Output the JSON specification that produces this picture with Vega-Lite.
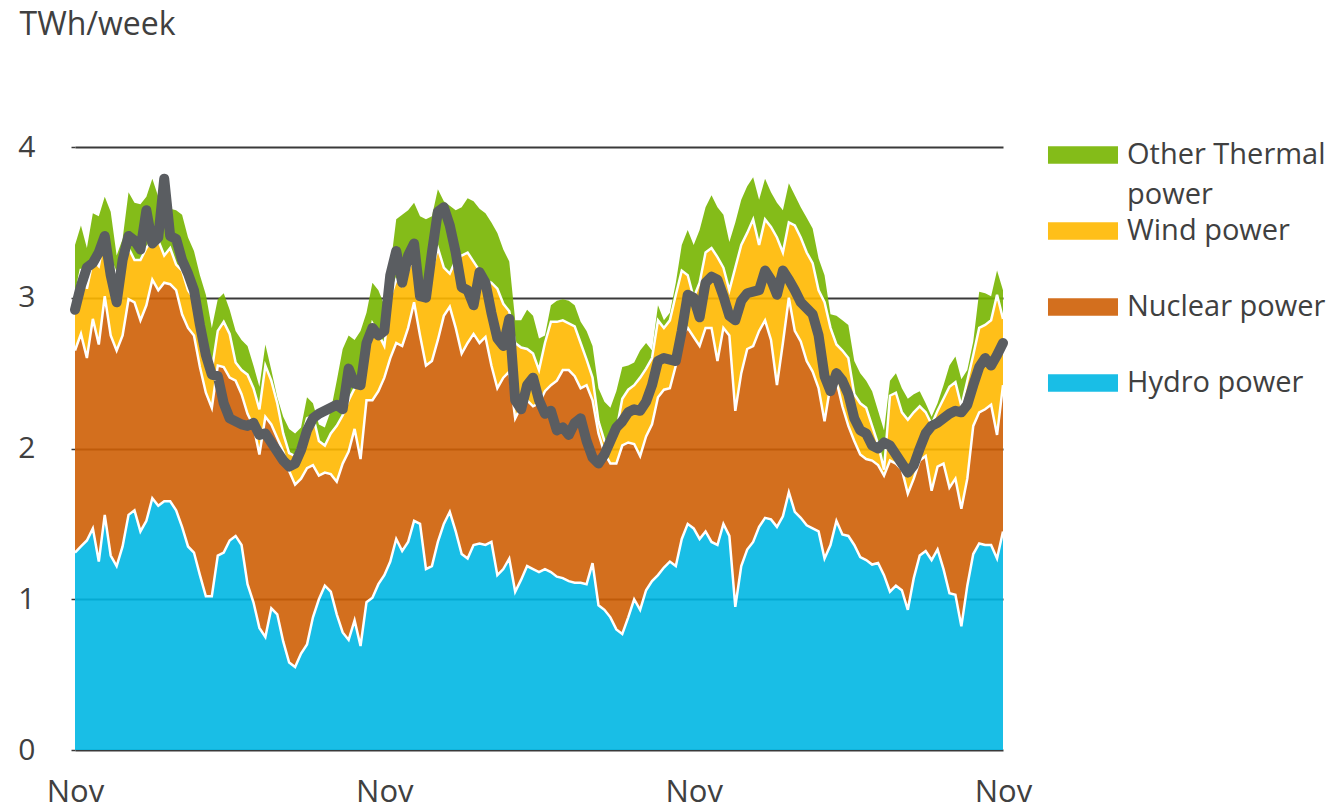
{
  "$schema": "https://vega.github.io/schema/vega-lite/v6.json",
  "width": 928,
  "height": 603,
  "autosize": {"type": "none"},
  "padding": {"left": 75, "top": 147, "right": 331, "bottom": 59},
  "background": "white",
  "config": {
    "view": {"stroke": null},
    "font": "Open Sans",
    "axisX": {
      "grid": false, "domain": false, "ticks": false,
      "labelFont": "Open Sans", "labelFontSize": 31, "labelColor": "#404040", "labelPadding": 27,
      "labelFlush": false, "labelOverlap": false
    },
    "axisY": {
      "grid": true, "gridColor": "#3A3A3A", "gridWidth": 2,
      "domain": false, "ticks": true, "tickSize": 4, "tickColor": "#3A3A3A", "tickWidth": 1.5,
      "labelFont": "Open Sans", "labelFontSize": 30, "labelColor": "#404040", "labelPadding": 36,
      "titleAngle": 0, "titleAlign": "left", "titleBaseline": "middle",
      "titleX": -56, "titleY": -123, "titleFont": "Open Sans", "titleFontSize": 32,
      "titleFontWeight": "normal", "titleColor": "#404040"
    }
  },
  "datasets": {
    "weekly": [
      {"w":0,"Hydro":1.31,"Nuclear":1.34,"Wind":0.34,"Other":0.36,"c":2.92},
      {"w":1,"Hydro":1.35,"Nuclear":1.41,"Wind":0.43,"Other":0.29,"c":3.08},
      {"w":2,"Hydro":1.39,"Nuclear":1.21,"Wind":0.46,"Other":0.27,"c":3.20},
      {"w":3,"Hydro":1.47,"Nuclear":1.39,"Wind":0.39,"Other":0.31,"c":3.23},
      {"w":4,"Hydro":1.25,"Nuclear":1.44,"Wind":0.52,"Other":0.33,"c":3.30},
      {"w":5,"Hydro":1.56,"Nuclear":1.45,"Wind":0.40,"Other":0.26,"c":3.41},
      {"w":6,"Hydro":1.29,"Nuclear":1.46,"Wind":0.50,"Other":0.32,"c":3.15},
      {"w":7,"Hydro":1.22,"Nuclear":1.43,"Wind":0.50,"Other":0.13,"c":2.97},
      {"w":8,"Hydro":1.35,"Nuclear":1.40,"Wind":0.53,"Other":0.11,"c":3.25},
      {"w":9,"Hydro":1.56,"Nuclear":1.43,"Wind":0.34,"Other":0.37,"c":3.41},
      {"w":10,"Hydro":1.59,"Nuclear":1.38,"Wind":0.28,"Other":0.38,"c":3.38},
      {"w":11,"Hydro":1.45,"Nuclear":1.40,"Wind":0.40,"Other":0.37,"c":3.32},
      {"w":12,"Hydro":1.52,"Nuclear":1.43,"Wind":0.38,"Other":0.34,"c":3.58},
      {"w":13,"Hydro":1.67,"Nuclear":1.45,"Wind":0.27,"Other":0.40,"c":3.36},
      {"w":14,"Hydro":1.62,"Nuclear":1.43,"Wind":0.33,"Other":0.29,"c":3.40},
      {"w":15,"Hydro":1.65,"Nuclear":1.45,"Wind":0.18,"Other":0.42,"c":3.79},
      {"w":16,"Hydro":1.65,"Nuclear":1.44,"Wind":0.24,"Other":0.26,"c":3.41},
      {"w":17,"Hydro":1.59,"Nuclear":1.46,"Wind":0.17,"Other":0.36,"c":3.39},
      {"w":18,"Hydro":1.48,"Nuclear":1.41,"Wind":0.29,"Other":0.37,"c":3.25},
      {"w":19,"Hydro":1.35,"Nuclear":1.45,"Wind":0.25,"Other":0.35,"c":3.16},
      {"w":20,"Hydro":1.31,"Nuclear":1.44,"Wind":0.24,"Other":0.32,"c":3.05},
      {"w":21,"Hydro":1.16,"Nuclear":1.38,"Wind":0.30,"Other":0.31,"c":2.82},
      {"w":22,"Hydro":1.02,"Nuclear":1.35,"Wind":0.21,"Other":0.44,"c":2.62},
      {"w":23,"Hydro":1.02,"Nuclear":1.25,"Wind":0.25,"Other":0.28,"c":2.49},
      {"w":24,"Hydro":1.29,"Nuclear":1.26,"Wind":0.23,"Other":0.21,"c":2.48},
      {"w":25,"Hydro":1.31,"Nuclear":1.23,"Wind":0.30,"Other":0.19,"c":2.30},
      {"w":26,"Hydro":1.39,"Nuclear":1.08,"Wind":0.29,"Other":0.16,"c":2.20},
      {"w":27,"Hydro":1.42,"Nuclear":1.03,"Wind":0.12,"Other":0.21,"c":2.18},
      {"w":28,"Hydro":1.36,"Nuclear":1.00,"Wind":0.16,"Other":0.20,"c":2.16},
      {"w":29,"Hydro":1.10,"Nuclear":1.13,"Wind":0.26,"Other":0.19,"c":2.15},
      {"w":30,"Hydro":0.98,"Nuclear":1.17,"Wind":0.25,"Other":0.15,"c":2.17},
      {"w":31,"Hydro":0.81,"Nuclear":1.15,"Wind":0.30,"Other":0.15,"c":2.09},
      {"w":32,"Hydro":0.75,"Nuclear":1.46,"Wind":0.34,"Other":0.14,"c":2.10},
      {"w":33,"Hydro":0.94,"Nuclear":1.22,"Wind":0.29,"Other":0.07,"c":2.04},
      {"w":34,"Hydro":0.90,"Nuclear":1.17,"Wind":0.23,"Other":0.04,"c":1.98},
      {"w":35,"Hydro":0.72,"Nuclear":1.26,"Wind":0.12,"Other":0.11,"c":1.92},
      {"w":36,"Hydro":0.58,"Nuclear":1.27,"Wind":0.12,"Other":0.16,"c":1.88},
      {"w":37,"Hydro":0.55,"Nuclear":1.21,"Wind":0.19,"Other":0.15,"c":1.90},
      {"w":38,"Hydro":0.64,"Nuclear":1.16,"Wind":0.25,"Other":0.09,"c":1.99},
      {"w":39,"Hydro":0.70,"Nuclear":1.17,"Wind":0.33,"Other":0.14,"c":2.12},
      {"w":40,"Hydro":0.88,"Nuclear":1.01,"Wind":0.33,"Other":0.08,"c":2.20},
      {"w":41,"Hydro":1.00,"Nuclear":0.82,"Wind":0.23,"Other":0.11,"c":2.23},
      {"w":42,"Hydro":1.09,"Nuclear":0.75,"Wind":0.18,"Other":0.12,"c":2.25},
      {"w":43,"Hydro":1.05,"Nuclear":0.78,"Wind":0.27,"Other":0.15,"c":2.27},
      {"w":44,"Hydro":0.90,"Nuclear":0.88,"Wind":0.37,"Other":0.30,"c":2.29},
      {"w":45,"Hydro":0.78,"Nuclear":1.12,"Wind":0.32,"Other":0.44,"c":2.26},
      {"w":46,"Hydro":0.73,"Nuclear":1.25,"Wind":0.34,"Other":0.43,"c":2.53},
      {"w":47,"Hydro":0.86,"Nuclear":1.27,"Wind":0.27,"Other":0.32,"c":2.43},
      {"w":48,"Hydro":0.69,"Nuclear":1.24,"Wind":0.53,"Other":0.32,"c":2.42},
      {"w":49,"Hydro":0.98,"Nuclear":1.34,"Wind":0.28,"Other":0.30,"c":2.70},
      {"w":50,"Hydro":1.01,"Nuclear":1.31,"Wind":0.51,"Other":0.27,"c":2.80},
      {"w":51,"Hydro":1.10,"Nuclear":1.28,"Wind":0.38,"Other":0.29,"c":2.75},
      {"w":52,"Hydro":1.16,"Nuclear":1.31,"Wind":0.21,"Other":0.27,"c":2.78},
      {"w":53,"Hydro":1.25,"Nuclear":1.35,"Wind":0.40,"Other":0.20,"c":3.15},
      {"w":54,"Hydro":1.40,"Nuclear":1.30,"Wind":0.42,"Other":0.40,"c":3.31},
      {"w":55,"Hydro":1.32,"Nuclear":1.36,"Wind":0.40,"Other":0.47,"c":3.10},
      {"w":56,"Hydro":1.38,"Nuclear":1.42,"Wind":0.38,"Other":0.40,"c":3.28},
      {"w":57,"Hydro":1.52,"Nuclear":1.45,"Wind":0.31,"Other":0.35,"c":3.36},
      {"w":58,"Hydro":1.50,"Nuclear":1.25,"Wind":0.30,"Other":0.49,"c":3.01},
      {"w":59,"Hydro":1.20,"Nuclear":1.35,"Wind":0.45,"Other":0.52,"c":3.00},
      {"w":60,"Hydro":1.22,"Nuclear":1.36,"Wind":0.60,"Other":0.36,"c":3.30},
      {"w":61,"Hydro":1.38,"Nuclear":1.34,"Wind":0.61,"Other":0.39,"c":3.57},
      {"w":62,"Hydro":1.50,"Nuclear":1.38,"Wind":0.32,"Other":0.44,"c":3.60},
      {"w":63,"Hydro":1.58,"Nuclear":1.36,"Wind":0.22,"Other":0.45,"c":3.48},
      {"w":64,"Hydro":1.45,"Nuclear":1.35,"Wind":0.45,"Other":0.33,"c":3.30},
      {"w":65,"Hydro":1.30,"Nuclear":1.33,"Wind":0.65,"Other":0.32,"c":3.07},
      {"w":66,"Hydro":1.27,"Nuclear":1.43,"Wind":0.60,"Other":0.36,"c":3.05},
      {"w":67,"Hydro":1.36,"Nuclear":1.40,"Wind":0.48,"Other":0.40,"c":2.95},
      {"w":68,"Hydro":1.37,"Nuclear":1.33,"Wind":0.48,"Other":0.41,"c":3.17},
      {"w":69,"Hydro":1.36,"Nuclear":1.38,"Wind":0.38,"Other":0.44,"c":3.10},
      {"w":70,"Hydro":1.38,"Nuclear":1.17,"Wind":0.55,"Other":0.40,"c":2.90},
      {"w":71,"Hydro":1.16,"Nuclear":1.24,"Wind":0.66,"Other":0.37,"c":2.73},
      {"w":72,"Hydro":1.20,"Nuclear":1.27,"Wind":0.49,"Other":0.36,"c":2.68},
      {"w":73,"Hydro":1.27,"Nuclear":1.24,"Wind":0.40,"Other":0.33,"c":2.86},
      {"w":74,"Hydro":1.05,"Nuclear":1.15,"Wind":0.50,"Other":0.15,"c":2.32},
      {"w":75,"Hydro":1.13,"Nuclear":1.15,"Wind":0.39,"Other":0.18,"c":2.26},
      {"w":76,"Hydro":1.22,"Nuclear":1.10,"Wind":0.34,"Other":0.26,"c":2.42},
      {"w":77,"Hydro":1.20,"Nuclear":1.08,"Wind":0.35,"Other":0.25,"c":2.47},
      {"w":78,"Hydro":1.18,"Nuclear":1.12,"Wind":0.22,"Other":0.21,"c":2.32},
      {"w":79,"Hydro":1.20,"Nuclear":1.18,"Wind":0.32,"Other":0.05,"c":2.23},
      {"w":80,"Hydro":1.18,"Nuclear":1.24,"Wind":0.42,"Other":0.11,"c":2.25},
      {"w":81,"Hydro":1.15,"Nuclear":1.30,"Wind":0.39,"Other":0.14,"c":2.12},
      {"w":82,"Hydro":1.14,"Nuclear":1.38,"Wind":0.33,"Other":0.14,"c":2.14},
      {"w":83,"Hydro":1.12,"Nuclear":1.40,"Wind":0.31,"Other":0.15,"c":2.09},
      {"w":84,"Hydro":1.11,"Nuclear":1.37,"Wind":0.33,"Other":0.14,"c":2.17},
      {"w":85,"Hydro":1.11,"Nuclear":1.29,"Wind":0.30,"Other":0.14,"c":2.20},
      {"w":86,"Hydro":1.10,"Nuclear":1.32,"Wind":0.17,"Other":0.19,"c":2.05},
      {"w":87,"Hydro":1.24,"Nuclear":1.08,"Wind":0.15,"Other":0.21,"c":1.94},
      {"w":88,"Hydro":0.96,"Nuclear":1.14,"Wind":0.08,"Other":0.22,"c":1.90},
      {"w":89,"Hydro":0.93,"Nuclear":1.04,"Wind":0.08,"Other":0.26,"c":1.96},
      {"w":90,"Hydro":0.88,"Nuclear":1.02,"Wind":0.10,"Other":0.27,"c":2.05},
      {"w":91,"Hydro":0.80,"Nuclear":1.10,"Wind":0.22,"Other":0.26,"c":2.14},
      {"w":92,"Hydro":0.77,"Nuclear":1.25,"Wind":0.31,"Other":0.21,"c":2.18},
      {"w":93,"Hydro":0.88,"Nuclear":1.16,"Wind":0.35,"Other":0.16,"c":2.24},
      {"w":94,"Hydro":1.00,"Nuclear":1.03,"Wind":0.39,"Other":0.15,"c":2.26},
      {"w":95,"Hydro":0.93,"Nuclear":1.02,"Wind":0.52,"Other":0.18,"c":2.25},
      {"w":96,"Hydro":1.06,"Nuclear":1.02,"Wind":0.45,"Other":0.17,"c":2.31},
      {"w":97,"Hydro":1.12,"Nuclear":1.04,"Wind":0.44,"Other":0.05,"c":2.42},
      {"w":98,"Hydro":1.16,"Nuclear":1.18,"Wind":0.51,"Other":0.10,"c":2.58},
      {"w":99,"Hydro":1.21,"Nuclear":1.18,"Wind":0.41,"Other":0.05,"c":2.60},
      {"w":100,"Hydro":1.25,"Nuclear":1.15,"Wind":0.45,"Other":0.05,"c":2.59},
      {"w":101,"Hydro":1.22,"Nuclear":1.33,"Wind":0.47,"Other":0.08,"c":2.58},
      {"w":102,"Hydro":1.40,"Nuclear":1.35,"Wind":0.43,"Other":0.17,"c":2.78},
      {"w":103,"Hydro":1.50,"Nuclear":1.30,"Wind":0.35,"Other":0.30,"c":3.02},
      {"w":104,"Hydro":1.47,"Nuclear":1.27,"Wind":0.26,"Other":0.35,"c":3.00},
      {"w":105,"Hydro":1.40,"Nuclear":1.28,"Wind":0.42,"Other":0.35,"c":2.87},
      {"w":106,"Hydro":1.45,"Nuclear":1.35,"Wind":0.50,"Other":0.30,"c":3.10},
      {"w":107,"Hydro":1.38,"Nuclear":1.42,"Wind":0.53,"Other":0.35,"c":3.14},
      {"w":108,"Hydro":1.36,"Nuclear":1.22,"Wind":0.69,"Other":0.33,"c":3.12},
      {"w":109,"Hydro":1.50,"Nuclear":1.30,"Wind":0.40,"Other":0.35,"c":3.01},
      {"w":110,"Hydro":1.42,"Nuclear":1.33,"Wind":0.30,"Other":0.32,"c":2.88},
      {"w":111,"Hydro":0.95,"Nuclear":1.30,"Wind":0.95,"Other":0.30,"c":2.85},
      {"w":112,"Hydro":1.22,"Nuclear":1.28,"Wind":0.85,"Other":0.30,"c":2.98},
      {"w":113,"Hydro":1.33,"Nuclear":1.33,"Wind":0.77,"Other":0.31,"c":3.03},
      {"w":114,"Hydro":1.38,"Nuclear":1.30,"Wind":0.84,"Other":0.28,"c":3.04},
      {"w":115,"Hydro":1.48,"Nuclear":1.30,"Wind":0.57,"Other":0.30,"c":3.05},
      {"w":116,"Hydro":1.54,"Nuclear":1.31,"Wind":0.67,"Other":0.27,"c":3.18},
      {"w":117,"Hydro":1.53,"Nuclear":1.19,"Wind":0.75,"Other":0.23,"c":3.12},
      {"w":118,"Hydro":1.48,"Nuclear":0.94,"Wind":0.98,"Other":0.23,"c":3.02},
      {"w":119,"Hydro":1.55,"Nuclear":1.15,"Wind":0.60,"Other":0.28,"c":3.18},
      {"w":120,"Hydro":1.71,"Nuclear":1.29,"Wind":0.50,"Other":0.26,"c":3.12},
      {"w":121,"Hydro":1.58,"Nuclear":1.20,"Wind":0.70,"Other":0.20,"c":3.05},
      {"w":122,"Hydro":1.54,"Nuclear":1.17,"Wind":0.69,"Other":0.20,"c":2.97},
      {"w":123,"Hydro":1.49,"Nuclear":1.09,"Wind":0.72,"Other":0.23,"c":2.93},
      {"w":124,"Hydro":1.47,"Nuclear":1.04,"Wind":0.72,"Other":0.23,"c":2.89},
      {"w":125,"Hydro":1.45,"Nuclear":0.95,"Wind":0.65,"Other":0.21,"c":2.75},
      {"w":126,"Hydro":1.27,"Nuclear":0.91,"Wind":0.79,"Other":0.18,"c":2.48},
      {"w":127,"Hydro":1.36,"Nuclear":1.06,"Wind":0.38,"Other":0.09,"c":2.38},
      {"w":128,"Hydro":1.52,"Nuclear":0.93,"Wind":0.24,"Other":0.19,"c":2.50},
      {"w":129,"Hydro":1.43,"Nuclear":0.85,"Wind":0.37,"Other":0.20,"c":2.45},
      {"w":130,"Hydro":1.42,"Nuclear":0.73,"Wind":0.45,"Other":0.22,"c":2.36},
      {"w":131,"Hydro":1.36,"Nuclear":0.69,"Wind":0.31,"Other":0.22,"c":2.20},
      {"w":132,"Hydro":1.28,"Nuclear":0.68,"Wind":0.34,"Other":0.20,"c":2.12},
      {"w":133,"Hydro":1.26,"Nuclear":0.67,"Wind":0.34,"Other":0.18,"c":2.10},
      {"w":134,"Hydro":1.23,"Nuclear":0.69,"Wind":0.23,"Other":0.23,"c":2.02},
      {"w":135,"Hydro":1.24,"Nuclear":0.65,"Wind":0.14,"Other":0.22,"c":2.00},
      {"w":136,"Hydro":1.16,"Nuclear":0.66,"Wind":0.04,"Other":0.26,"c":2.04},
      {"w":137,"Hydro":1.05,"Nuclear":0.87,"Wind":0.43,"Other":0.10,"c":2.02},
      {"w":138,"Hydro":1.09,"Nuclear":0.81,"Wind":0.47,"Other":0.13,"c":1.96},
      {"w":139,"Hydro":1.06,"Nuclear":0.80,"Wind":0.38,"Other":0.16,"c":1.90},
      {"w":140,"Hydro":0.93,"Nuclear":0.77,"Wind":0.49,"Other":0.14,"c":1.84},
      {"w":141,"Hydro":1.14,"Nuclear":0.66,"Wind":0.44,"Other":0.12,"c":1.89},
      {"w":142,"Hydro":1.29,"Nuclear":0.63,"Wind":0.36,"Other":0.10,"c":2.00},
      {"w":143,"Hydro":1.32,"Nuclear":0.63,"Wind":0.29,"Other":0.06,"c":2.10},
      {"w":144,"Hydro":1.26,"Nuclear":0.46,"Wind":0.44,"Other":0.05,"c":2.15},
      {"w":145,"Hydro":1.33,"Nuclear":0.55,"Wind":0.37,"Other":0.05,"c":2.17},
      {"w":146,"Hydro":1.20,"Nuclear":0.70,"Wind":0.43,"Other":0.09,"c":2.20},
      {"w":147,"Hydro":1.04,"Nuclear":0.70,"Wind":0.67,"Other":0.14,"c":2.23},
      {"w":148,"Hydro":1.03,"Nuclear":0.77,"Wind":0.64,"Other":0.17,"c":2.25},
      {"w":149,"Hydro":0.82,"Nuclear":0.78,"Wind":0.68,"Other":0.18,"c":2.24},
      {"w":150,"Hydro":1.09,"Nuclear":0.71,"Wind":0.65,"Other":0.07,"c":2.29},
      {"w":151,"Hydro":1.30,"Nuclear":0.85,"Wind":0.47,"Other":0.09,"c":2.42},
      {"w":152,"Hydro":1.37,"Nuclear":0.87,"Wind":0.56,"Other":0.24,"c":2.54},
      {"w":153,"Hydro":1.36,"Nuclear":0.90,"Wind":0.56,"Other":0.21,"c":2.60},
      {"w":154,"Hydro":1.36,"Nuclear":0.93,"Wind":0.56,"Other":0.16,"c":2.55},
      {"w":155,"Hydro":1.27,"Nuclear":0.82,"Wind":0.93,"Other":0.16,"c":2.62},
      {"w":156,"Hydro":1.45,"Nuclear":0.97,"Wind":0.44,"Other":0.19,"c":2.70}
    ],
    "ranks": [
      {"series": "Hydro", "rank": 1},
      {"series": "Nuclear", "rank": 2},
      {"series": "Wind", "rank": 3},
      {"series": "Other", "rank": 4}
    ]
  },
  "data": {"name": "weekly"},
  "layer": [
    {
      "transform": [
        {"fold": ["Hydro", "Nuclear", "Wind", "Other"], "as": ["series", "twh"]},
        {"lookup": "series", "from": {"data": {"name": "ranks"}, "key": "series", "fields": ["rank"]}},
        {"stack": "twh", "groupby": ["w"], "sort": [{"field": "rank", "order": "ascending"}], "as": ["lo", "hi"]}
      ],
      "mark": {"type": "area", "opacity": 0.9, "interpolate": "linear"},
      "encoding": {
        "x": {
          "field": "w", "type": "quantitative",
          "scale": {"domain": [0, 156], "nice": false, "zero": false},
          "axis": {"values": [0, 52, 104, 156], "labelExpr": "'Nov'", "title": null}
        },
        "y": {
          "field": "hi", "type": "quantitative",
          "scale": {"domain": [0, 4], "nice": false},
          "axis": {"values": [0, 1, 2, 3, 4], "title": "TWh/week"}
        },
        "y2": {"field": "lo"},
        "color": {
          "field": "series", "type": "nominal",
          "scale": {"domain": ["Other", "Wind", "Nuclear", "Hydro"], "range": ["#77B500", "#FFB800", "#CE5F05", "#00B7E3"]},
          "legend": {
            "orient": "none", "legendX": 987, "legendY": -13, "title": null, "padding": 0,
            "symbolType": "M-1.667,-0.417H1.667V0.417H-1.667Z", "symbolSize": 1764, "symbolStrokeWidth": 0, "symbolOpacity": 0.9,
            "labelFont": "Open Sans", "labelFontSize": 29, "labelColor": "#404040", "labelOffset": 23,
            "labelLimit": 400, "rowPadding": 0,
            "labelExpr": "datum.label == 'Other' ? ['Other Thermal', 'power'] : [datum.label + ' power', ' ']",
            "encode": {"labels": {"update": {"lineHeight": {"value": 40}}}}
          }
        }
      }
    },
    {
      "transform": [
        {"fold": ["Hydro", "Nuclear", "Wind", "Other"], "as": ["series", "twh"]},
        {"lookup": "series", "from": {"data": {"name": "ranks"}, "key": "series", "fields": ["rank"]}},
        {"stack": "twh", "groupby": ["w"], "sort": [{"field": "rank", "order": "ascending"}], "as": ["lo", "hi"]},
        {"filter": "datum.series != 'Other'"}
      ],
      "mark": {"type": "line", "color": "white", "strokeWidth": 2.5, "interpolate": "linear"},
      "encoding": {
        "x": {
          "field": "w", "type": "quantitative",
          "axis": {"values": [0, 52, 104, 156], "labelExpr": "'Nov'", "title": null}
        },
        "y": {
          "field": "hi", "type": "quantitative",
          "axis": {"values": [0, 1, 2, 3, 4], "title": "TWh/week"}
        },
        "detail": {"field": "series", "type": "nominal"}
      }
    },
    {
      "mark": {"type": "line", "color": "#5A5D61", "strokeWidth": 10, "strokeCap": "round", "strokeJoin": "round"},
      "encoding": {
        "x": {
          "field": "w", "type": "quantitative",
          "axis": {"values": [0, 52, 104, 156], "labelExpr": "'Nov'", "title": null}
        },
        "y": {
          "field": "c", "type": "quantitative",
          "axis": {"values": [0, 1, 2, 3, 4], "title": "TWh/week"}
        }
      }
    }
  ]
}
